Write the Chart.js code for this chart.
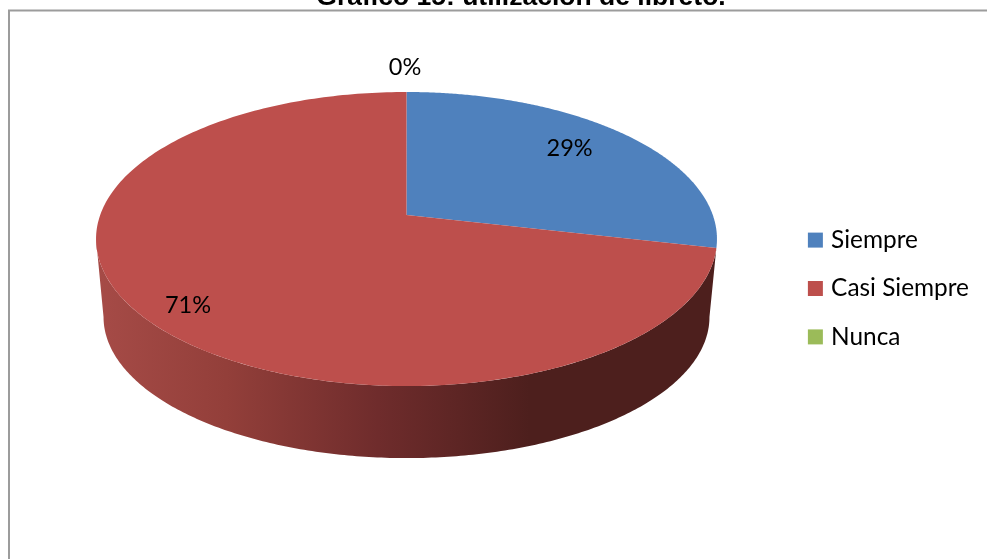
<!DOCTYPE html>
<html><head><meta charset="utf-8">
<script src="https://cdn.jsdelivr.net/npm/chart.js@4/dist/chart.umd.min.js"></script>
<style>html,body{margin:0;padding:0;background:#fff;overflow:hidden;width:987px;height:559px}
#w{position:absolute;left:0;top:-20px;width:987px;height:579px}</style></head>
<body><div id="w"><canvas id="c" width="987" height="579"></canvas></div>
<script>
const titleText = 'Gráfico 15: utilización de libreto.';
const categories = ['Siempre', 'Casi Siempre', 'Nunca'];
const seriesValues = [2, 5, 0];
const sliceColors = ['#4F81BD', '#BD4F4C', '#9BBB59'];
const labelFont = 'Lato';

const TOP = 20; // canvas is shifted up so that the title is cropped
const K = 0.1633;
const faceProj = {cx: 406.5, y0: 215 + TOP, a: 306.3, b: 143.1};
const baseProj = {cx: 406.5, y0: 294 + TOP, a: 298.9, b: 137.3};
function project(p, t, r) {
  const u = r * Math.cos(t), v = r * Math.sin(t), w = 1 - K * v;
  return [p.cx + p.a * u / w, p.y0 + p.b * v / w];
}
const labelAnchors = [{r: 0.8, dx: -14, dy: -1}, {r: 0.8, dx: -10, dy: 13}, {r: 1, dx: -1.5, dy: -25}];

const pie3d = {
  id: 'pie3d',
  beforeDraw(chart) {
    const ctx = chart.ctx;
    ctx.save();
    ctx.strokeStyle = '#9C9C9C';
    ctx.lineWidth = 2;
    ctx.strokeRect(9, 10.5 + TOP, 1100, 700);
    ctx.restore();
  },
  beforeDatasetDraw(chart, args) {
    const ctx = chart.ctx, arcs = chart.getDatasetMeta(args.index).data;
    const sil = Math.asin(K);
    const red = arcs[1];
    const s = red.startAngle, e = Math.PI - sil;
    ctx.save();
    const g = ctx.createLinearGradient(96, 0, 530, 0);
    g.addColorStop(0, '#A64B47');
    g.addColorStop(0.3, '#933F3A');
    g.addColorStop(0.65, '#6F2C2C');
    g.addColorStop(1, '#4D1F1D');
    ctx.fillStyle = g;
    ctx.beginPath();
    const N = 240;
    for (let i = 0; i <= N; i++) {
      const pt = project(faceProj, s + (e - s) * i / N, 1);
      i ? ctx.lineTo(pt[0], pt[1]) : ctx.moveTo(pt[0], pt[1]);
    }
    for (let i = 0; i <= N; i++) {
      const pt = project(baseProj, e + (sil - e) * i / N, 1);
      ctx.lineTo(pt[0], pt[1]);
    }
    ctx.closePath();
    ctx.fill();
    arcs.forEach((arc, i) => {
      if (arc.endAngle - arc.startAngle <= 0) return;
      ctx.fillStyle = sliceColors[i];
      ctx.beginPath();
      const c = project(faceProj, 0, 0);
      ctx.moveTo(c[0], c[1]);
      for (let j = 0; j <= N; j++) {
        const pt = project(faceProj, arc.startAngle + (arc.endAngle - arc.startAngle) * j / N, 1);
        ctx.lineTo(pt[0], pt[1]);
      }
      ctx.closePath();
      ctx.fill();
    });
    ctx.restore();
    return false;
  },
  afterDatasetsDraw(chart) {
    const ctx = chart.ctx, arcs = chart.getDatasetMeta(0).data;
    const total = seriesValues.reduce((x, y) => x + y, 0);
    ctx.save();
    ctx.font = '23.5px ' + labelFont;
    ctx.fillStyle = '#000';
    ctx.textAlign = 'center';
    ctx.textBaseline = 'middle';
    arcs.forEach((arc, i) => {
      const mid = (arc.startAngle + arc.endAngle) / 2;
      const a = labelAnchors[i], pt = project(faceProj, mid, a.r);
      ctx.fillText(Math.round(seriesValues[i] / total * 100) + '%', pt[0] + a.dx, pt[1] + a.dy);
    });
    ctx.restore();
  }
};

new Chart(document.getElementById('c'), {
  type: 'pie',
  plugins: [pie3d],
  data: {labels: categories, datasets: [{data: seriesValues, backgroundColor: sliceColors, borderWidth: 0}]},
  options: {
    responsive: false,
    animation: false,
    rotation: 0,
    layout: {padding: {left: 63, right: 8, top: 0, bottom: -38}},
    plugins: {
      tooltip: {enabled: false},
      title: {
        display: true, text: titleText, color: '#000',
        font: {family: '"Liberation Sans"', size: 26.5, weight: 'bold', lineHeight: 1.2},
        padding: {top: 2, bottom: 6}
      },
      legend: {
        position: 'right',
        labels: {
          boxWidth: 7, boxHeight: 7, padding: 24, color: '#000',
          font: {family: labelFont, size: 24.4},
          generateLabels: () => categories.map((t, i) => ({
            text: t, fillStyle: sliceColors[i], strokeStyle: sliceColors[i],
            lineWidth: 8, hidden: false, index: i
          }))
        }
      }
    }
  }
});
</script></body></html>
